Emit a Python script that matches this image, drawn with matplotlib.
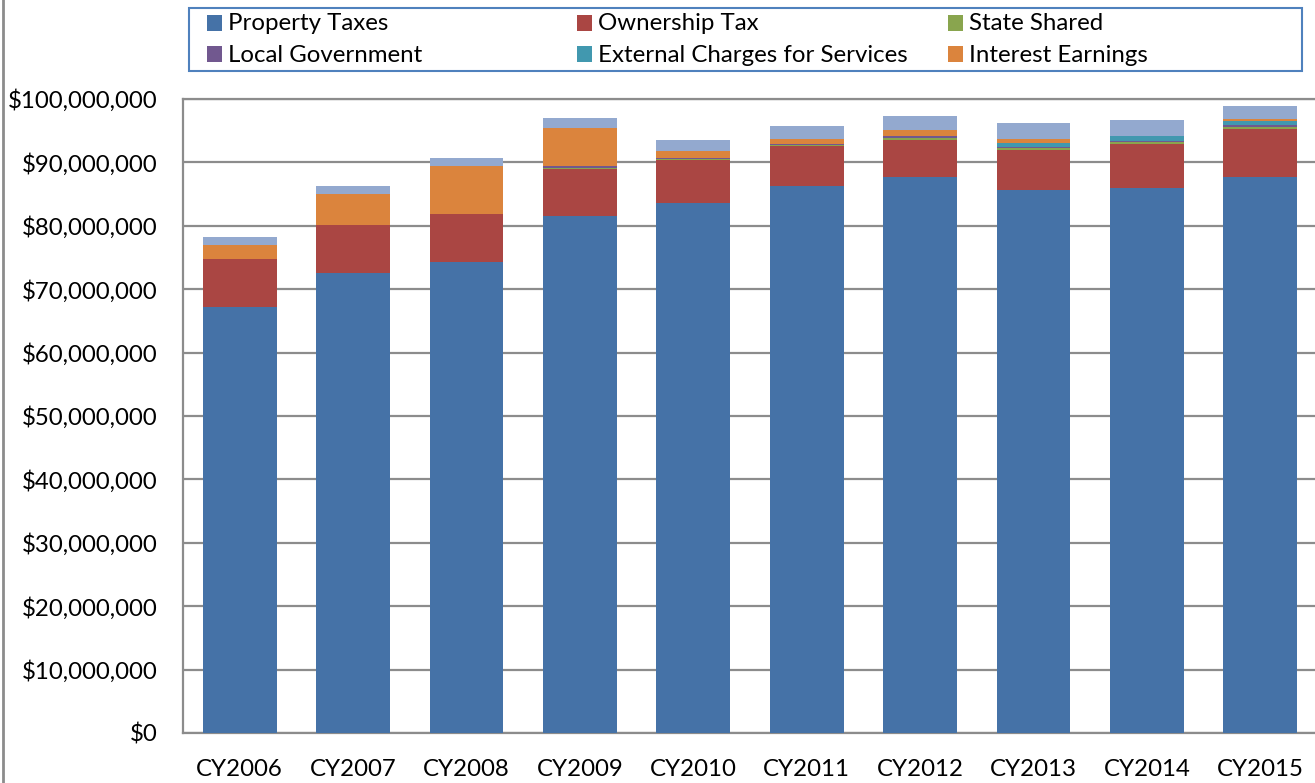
import matplotlib
matplotlib.use("Agg")
import matplotlib.pyplot as plt
from matplotlib.ticker import FuncFormatter
from matplotlib.patches import Rectangle
from matplotlib.lines import Line2D
import numpy as np

# Data (millions of dollars)
years = ["CY2006", "CY2007", "CY2008", "CY2009", "CY2010",
         "CY2011", "CY2012", "CY2013", "CY2014", "CY2015"]
property_taxes = [67.2, 72.6, 74.3, 81.5, 83.6, 86.3, 87.7, 85.6, 86.0, 87.7]
ownership_tax = [7.5, 7.5, 7.6, 7.4, 6.7, 6.3, 5.9, 6.4, 6.9, 7.5]
state_shared = [0.0, 0.0, 0.0, 0.25, 0.2, 0.2, 0.3, 0.2, 0.25, 0.36]
local_government = [0.0, 0.0, 0.0, 0.3, 0.16, 0.16, 0.3, 0.25, 0.25, 0.32]
external_charges = [0.0, 0.0, 0.0, 0.0, 0.0, 0.0, 0.0, 0.63, 0.74, 0.63]
interest_earnings = [2.2, 4.9, 7.6, 6.0, 1.2, 0.8, 0.95, 0.63, 0.0, 0.27]
other = [1.26, 1.26, 1.26, 1.6, 1.7, 2.0, 2.2, 2.5, 2.5, 2.05]

series = [
    ("Property Taxes", property_taxes, "#4572A7"),
    ("Ownership Tax", ownership_tax, "#AA4643"),
    ("State Shared", state_shared, "#89A54E"),
    ("Local Government", local_government, "#71588F"),
    ("External Charges for Services", external_charges, "#4198AF"),
    ("Interest Earnings", interest_earnings, "#DB843D"),
    ("Other", other, "#93A9CF"),
]

W, H = 1315, 783
FS = 17.3
plt.rcParams['font.family'] = ['Lato', 'DejaVu Sans']

fig = plt.figure(figsize=(W / 100, H / 100), dpi=100)
ax = fig.add_axes([183 / W, 50 / H, (1317 - 183) / W, 634 / H])

x = np.arange(len(years))
bottom = np.zeros(len(years))
for name, vals, color in series:
    v = np.array(vals) * 1e6
    ax.bar(x, v, width=0.65, bottom=bottom, color=color, linewidth=0, zorder=3)
    bottom += v

ax.set_xlim(-0.5, len(years) - 0.5)
ax.set_ylim(0, 100e6)
ax.set_yticks(np.arange(0, 100e6 + 1, 10e6))
ax.yaxis.set_major_formatter(FuncFormatter(lambda t, p: f"${t:,.0f}"))
ax.set_xticks(x)
ax.set_xticklabels(years)
ax.tick_params(axis='both', length=0, labelsize=FS, colors='black')
ax.tick_params(axis='y', pad=18.5)
ax.tick_params(axis='x', pad=19)
ax.grid(axis='y', color='#8c8c8c', linewidth=1.6, zorder=0)
for s in ax.spines.values():
    s.set_color('#8c8c8c')
    s.set_linewidth(1.6)

# legend box, laid out like the spreadsheet one (equal-width columns)
def fx(px):
    return px / W

def fy(py):
    return 1 - py / H

fig.add_artist(Rectangle((fx(189), fy(71)), fx(1302) - fx(189), fy(8) - fy(71),
                         transform=fig.transFigure, facecolor='white',
                         edgecolor='#4F81BD', linewidth=1.5))
col_x = [207, 577, 948]
row_y = [23, 54]
for i, (name, _, color) in enumerate(series[:6]):
    cx = col_x[i % 3]
    cy = row_y[i // 3]
    fig.add_artist(Rectangle((fx(cx), fy(cy + 7.5)), 15 / W, 15 / H,
                             transform=fig.transFigure, facecolor=color,
                             edgecolor='none'))
    fig.text(fx(cx + 21), fy(cy + 1), name, fontsize=FS, va='center', ha='left')

# left border of chart area
fig.add_artist(Line2D([3 / W, 3 / W], [0, 1], color='#8c8c8c', linewidth=2))

fig.savefig("out.png", dpi=100)
